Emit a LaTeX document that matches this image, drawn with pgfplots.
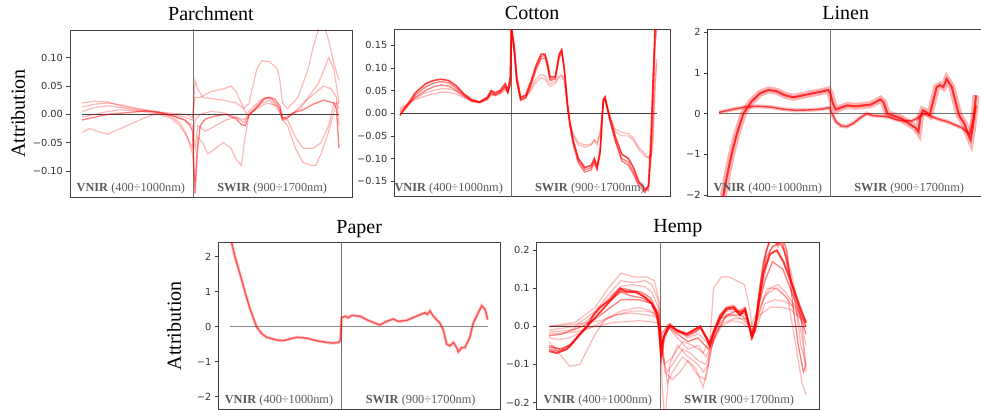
\documentclass[border=0pt]{standalone}
\usepackage{fontspec}
\setmainfont{Liberation Serif}
\newfontfamily\djv{DejaVu Sans}
\usepackage{pgfplots}
\usepackage{pgfplotstable}
\pgfplotsset{compat=1.18}

\pgfplotsset{
  panel/.style={
    scale only axis, anchor=south west,
    xtick=\empty, ytick pos=left, tick align=outside,
    major tick length=3.5pt,
    tick style={black!75, line width=0.6pt},
    yticklabel style={font=\djv\fontsize{9.8}{11}\selectfont, text=black!80},
    title style={font=\fontsize{20}{22}\selectfont, anchor=base, yshift=3.3pt},
    ylabel style={font=\fontsize{20}{22}\selectfont, anchor=center},
    axis line style={black!75, line width=0.7pt},
  },
  cur/.style={red, line width=1.2pt, opacity=0.28},
  mid/.style={red, line width=1.3pt, opacity=0.5},
  main/.style={red, line width=1.6pt, opacity=0.75},
  zero/.style={black!75, line width=0.6pt},
  sep/.style={black!55, line width=0.7pt},
}
\tikzset{lab/.style={font=\fontsize{12.3}{13}\selectfont, text=black!65, anchor=base}}
\newcommand{\bandlabels}{%
  \node[lab] at ({axis cs:19,0}|-{rel axis cs:0,0.032}) {\textbf{VNIR} (400÷1000nm)};
  \node[lab] at ({axis cs:74,0}|-{rel axis cs:0,0.032}) {\textbf{SWIR} (900÷1700nm)};
}

% Linen band data
\pgfplotstableread{
x y
0 -2.6
1.7 -2.0
3.2 -1.5
4.9 -1.0
6.9 -0.5
9.5 0
12.7 0.3
16 0.5
19.2 0.58
22.4 0.55
25.7 0.45
29 0.4
32.8 0.45
36.7 0.5
40.6 0.55
42.5 0.58
43.3 0.5
44.3 0.25
45.5 0.1
47.5 0.15
50 0.2
53 0.18
56 0.2
59 0.22
61.5 0.3
62.8 0.35
64 0.28
65.5 0.0
68 -0.05
71 -0.12
74 -0.25
76.5 -0.35
77.6 -0.45
78.3 -0.1
79.3 0.08
80.3 0.05
82 -0.03
83.3 0.3
84.7 0.65
86 0.7
87.3 0.65
88.6 0.85
89.6 0.75
90.6 0.65
92 0.3
93.5 -0.05
95.5 -0.25
97.2 -0.55
97.9 -0.65
98.8 -0.3
100 0.45
}\linenB
\pgfplotstableread{
x y
0 0.03
5 0.1
10 0.16
15 0.18
20 0.16
25 0.11
30 0.08
35 0.09
40 0.11
43 0.15
44 0.0
45.5 -0.2
47.5 -0.3
49.5 -0.32
52 -0.25
55 -0.1
57.5 0.0
60 -0.05
63 -0.06
66 -0.08
69 -0.15
72 -0.18
75 -0.18
77.5 -0.1
79.5 0.0
81 -0.02
83 -0.08
86 -0.15
89 -0.2
92 -0.28
94.5 -0.35
96.5 -0.45
97.5 -0.5
98.8 -0.2
100 0.2
}\linenA
\pgfplotstableread{
x y
0 2.6
1.9 2.0
3.9 1.5
5.8 1.0
7.8 0.5
10.3 0.0
12.3 -0.2
14.2 -0.3
18.1 -0.38
20.7 -0.4
23.3 -0.35
25.9 -0.3
29.8 -0.33
33.6 -0.4
37.5 -0.45
40.1 -0.47
42 -0.45
42.8 -0.4
43.3 0.25
44.6 0.3
45.9 0.25
47.2 0.32
50.5 0.3
53 0.2
56.3 0.1
58.2 0.05
60.8 0.15
63.4 0.22
65.3 0.15
68.6 0.18
72.4 0.3
75.7 0.4
76.6 0.35
77.6 0.45
78.9 0.3
81.5 0.1
82.8 -0.1
84.1 -0.5
85.4 -0.55
86.7 -0.45
88 -0.6
88.6 -0.72
89.9 -0.6
91.2 -0.6
93.1 -0.3
94.4 0.1
96.4 0.4
97.7 0.6
99 0.5
100 0.2
}\paper

\begin{document}
\begin{tikzpicture}
\path[use as bounding box] (0,0) rectangle (981pt,409pt);

% ---------------- Parchment
\begin{axis}[panel, at={(70pt,212pt)}, width=282pt, height=167pt,
  xmin=-4.67, xmax=105.06, ymin=-0.146, ymax=0.149,
  title={Parchment}, ylabel={Attribution},
  ylabel style={at={(axis description cs:-0.184,0.5)}},
  ytick={-0.1,-0.05,0,0.05,0.1},
  yticklabels={−0.10,−0.05,0.00,0.05,0.10}]
\addplot[sep] coordinates {(43.2,-1) (43.2,1)};
\addplot[zero] coordinates {(0,0) (100,0)};
\addplot[cur] coordinates {(0,0.02) (5,0.023) (10,0.022) (15,0.015) (20,0.01) (25,0.006) (30,0.003) (35,0) (40,-0.005) (43,-0.01) (44,0.06) (45,0.045) (47,0.03) (50,0.028) (55,0.025) (60,0.02) (63,0.01) (65,0.02) (68,0.08) (70,0.095) (73,0.093) (76,0.08) (77,0.06) (78,0.02) (80,0.01) (84,0.03) (88,0.08) (90,0.12) (92,0.15) (94,0.16) (96,0.13) (98,0.09) (100,0.06)};
\addplot[cur] coordinates {(0,0.013) (5,0.018) (10,0.02) (15,0.017) (20,0.012) (25,0.008) (30,0.004) (35,0.002) (40,0) (43,-0.005) (44,0.03) (46,0.03) (50,0.04) (55,0.045) (58,0.05) (60,0.04) (62,0.02) (64,0) (67,0.015) (71,0.03) (74,0.028) (77,0.01) (78,-0.008) (81,0) (85,0.01) (88,0.03) (92,0.055) (96,0.1) (98,0.08) (100,0.02)};
\addplot[cur] coordinates {(0,-0.005) (5,0) (10,0.005) (15,0.008) (20,0.006) (25,0.004) (30,0) (35,-0.008) (38,-0.02) (41,-0.04) (43,-0.07) (44,-0.12) (45,-0.04) (47,-0.05) (49,-0.07) (52,-0.06) (55,-0.05) (58,-0.06) (60,-0.08) (62,-0.09) (63.5,-0.04) (65,0) (68,0.01) (72,0.02) (76,0.015) (78,-0.01) (80,-0.01) (83,-0.04) (86,-0.06) (90,-0.06) (93,-0.05) (96,-0.02) (98,0.02) (100,0.02)};
\addplot[cur] coordinates {(0,-0.032) (3,-0.025) (6,-0.03) (10,-0.035) (15,-0.025) (20,-0.015) (25,-0.005) (30,0.003) (35,-0.005) (38,-0.015) (40,-0.03) (42,-0.05) (43,-0.06) (44,-0.01) (46,0) (50,0.005) (55,0.003) (60,-0.005) (63,-0.015) (65,0) (70,0.025) (73,0.03) (77,0.01) (78,-0.01) (80,-0.02) (83,-0.06) (86,-0.085) (89,-0.09) (91,-0.09) (93,-0.07) (96,-0.03) (99,0.02) (100,0.01)};
\addplot[cur] coordinates {(0,0.005) (5,0.012) (10,0.015) (15,0.012) (20,0.008) (25,0.006) (30,0.002) (35,-0.003) (40,-0.01) (43,-0.02) (44,-0.06) (45,-0.02) (48,-0.03) (52,-0.02) (56,-0.01) (60,-0.005) (63,-0.01) (65,0) (70,0.02) (73,0.025) (77,0.005) (78,-0.01) (82,0) (86,0.02) (90,0.035) (94,0.05) (97,0.045) (99,0.03) (100,-0.02)};
\addplot[mid] coordinates {(0,-0.01) (5,-0.005) (10,0) (15,0.002) (20,0.004) (25,0.006) (30,0.004) (35,-0.002) (40,-0.01) (42,-0.02) (43,-0.03) (44,-0.14) (45,-0.06) (46,-0.02) (48,-0.008) (52,-0.003) (56,0) (60,-0.008) (62,-0.018) (63.5,-0.02) (65,-0.002) (68,0.012) (71,0.028) (73,0.03) (75,0.027) (77,0.015) (78,-0.005) (79.5,-0.008) (82,0.002) (86,0.008) (90,0.018) (94,0.025) (98,0.02) (99,0.01) (100,-0.06)};
\bandlabels
\end{axis}

% ---------------- Cotton
\begin{axis}[panel, at={(394.3pt,212.3pt)}, width=275.7pt, height=167.4pt,
  xmin=-2.2, xmax=105.2, ymin=-0.184, ymax=0.185,
  title={Cotton},
  ytick={-0.15,-0.1,-0.05,0,0.05,0.1,0.15},
  yticklabels={−0.15,−0.10,−0.05,0.00,0.05,0.10,0.15}]
\addplot[sep] coordinates {(43.4,-1) (43.4,1)};
\addplot[zero] coordinates {(0,0) (100,0)};
\addplot[cur] coordinates {(0,0.012) (3,0.02) (6,0.03) (10,0.038) (13,0.043) (16,0.046) (19,0.046) (22,0.042) (25,0.034) (28,0.026) (31,0.024) (34,0.03) (35.5,0.04) (37,0.038) (39,0.042) (41,0.052) (42,0.045) (43,0.06) (43.4,0.185) (44.5,0.13) (45.5,0.065) (47,0.03) (49,0.035) (51,0.05) (53,0.068) (55,0.078) (56.5,0.075) (57.5,0.065) (58.5,0.06) (60.5,0.065) (62,0.078) (63,0.082) (64,0.07) (65.3,0.01) (66.2,-0.02) (67.5,-0.045) (69.5,-0.065) (72,-0.07) (74.5,-0.068) (75.7,-0.058) (76.8,-0.065) (78,-0.04) (79.2,0.02) (79.9,0.035) (80.8,0.015) (81.8,-0.005) (83.8,-0.035) (86.4,-0.042) (89,-0.045) (91,-0.055) (93,-0.075) (95.5,-0.09) (96.8,-0.1) (97.8,-0.095) (98.5,-0.08) (99.4,0.05) (100,0.11)};
\addplot[cur] coordinates {(0,0.008) (3,0.02) (6,0.033) (10,0.045) (13,0.05) (16,0.054) (19,0.054) (22,0.048) (25,0.036) (28,0.027) (31,0.024) (34,0.032) (35.5,0.044) (37,0.04) (39,0.044) (41,0.055) (42,0.046) (43,0.062) (43.4,0.18) (44.5,0.13) (45.5,0.07) (47,0.032) (49,0.036) (51,0.055) (53,0.075) (55,0.085) (56.5,0.083) (57.5,0.072) (58.5,0.065) (60.5,0.07) (62,0.082) (63,0.085) (64,0.075) (65.3,0.015) (66.2,-0.02) (67.5,-0.05) (69.5,-0.07) (72,-0.075) (74.5,-0.07) (75.7,-0.06) (76.8,-0.07) (78,-0.045) (79.2,0.022) (79.9,0.033) (80.8,0.012) (81.8,-0.01) (83.8,-0.04) (86.4,-0.05) (89,-0.05) (91,-0.06) (93,-0.08) (95.5,-0.095) (96.8,-0.098) (97.8,-0.09) (98.5,-0.05) (99.4,0.08) (100,0.12)};
\addplot[mid] coordinates {(0,0.003) (3,0.018) (6,0.035) (10,0.05) (13,0.058) (16,0.062) (19,0.06) (22,0.05) (25,0.038) (28,0.026) (31,0.023) (34,0.03) (35.5,0.043) (37,0.04) (39,0.045) (41,0.058) (42,0.045) (43,0.065) (43.4,0.19) (44.5,0.14) (45.5,0.07) (47,0.028) (49,0.033) (51,0.06) (53,0.095) (55,0.12) (56.5,0.122) (57.5,0.1) (58.5,0.072) (60.5,0.075) (62,0.12) (63,0.135) (64,0.095) (65.3,0.01) (66.2,-0.03) (67.5,-0.07) (69.5,-0.11) (72,-0.13) (74.5,-0.125) (75.7,-0.11) (76.8,-0.125) (78,-0.09) (79.2,0.025) (79.9,0.03) (80.8,0.008) (81.8,-0.018) (83.8,-0.06) (86.4,-0.105) (89,-0.115) (91,-0.135) (93,-0.16) (95.5,-0.175) (96.8,-0.16) (97.8,-0.1) (98.5,0.0) (99.4,0.15) (100,0.19)};
\addplot[mid] coordinates {(0,-0.003) (3,0.015) (6,0.04) (10,0.058) (13,0.066) (16,0.07) (19,0.067) (22,0.055) (25,0.04) (28,0.028) (31,0.024) (34,0.033) (35.5,0.047) (37,0.042) (39,0.047) (41,0.06) (42,0.045) (43,0.07) (43.4,0.19) (44.5,0.14) (45.5,0.075) (47,0.03) (49,0.036) (51,0.065) (53,0.1) (55,0.125) (56.5,0.127) (57.5,0.105) (58.5,0.075) (60.5,0.078) (62,0.125) (63,0.138) (64,0.098) (65.3,0.015) (66.2,-0.025) (67.5,-0.065) (69.5,-0.105) (72,-0.125) (74.5,-0.12) (75.7,-0.105) (76.8,-0.122) (78,-0.085) (79.2,0.028) (79.9,0.033) (80.8,0.01) (81.8,-0.015) (83.8,-0.058) (86.4,-0.1) (89,-0.108) (91,-0.13) (93,-0.155) (95.5,-0.165) (96.8,-0.17) (97.8,-0.08) (98.5,0.03) (99.4,0.19)};
\addplot[main] coordinates {(0,-0.005) (3,0.02) (6,0.045) (10,0.065) (13,0.072) (16,0.075) (19,0.072) (22,0.06) (25,0.042) (28,0.03) (31,0.025) (34,0.035) (35.5,0.05) (37,0.045) (39,0.05) (41,0.065) (42,0.05) (43,0.08) (43.4,0.19) (44.5,0.15) (45.5,0.08) (47,0.035) (49,0.04) (51,0.07) (53,0.105) (55,0.13) (56.5,0.13) (57.5,0.11) (58.5,0.08) (60.5,0.08) (62,0.13) (63,0.14) (64,0.1) (65.3,0.02) (66.2,-0.02) (67.5,-0.06) (69.5,-0.1) (72,-0.12) (74.5,-0.115) (75.7,-0.1) (76.8,-0.118) (78,-0.08) (79.2,0.03) (79.9,0.036) (80.8,0.012) (81.8,-0.01) (83.8,-0.05) (86.4,-0.09) (89,-0.1) (91,-0.12) (93,-0.15) (95.5,-0.17) (96.8,-0.16) (97.8,-0.05) (98.5,0.06) (99.4,0.19) (100,0.2)};
\bandlabels
\end{axis}

% ---------------- Linen
\begin{axis}[panel, at={(707.7pt,212.3pt)}, width=276pt, height=167.4pt,
  xmin=-4.4, xmax=103, ymin=-2.04, ymax=2.07,
  title={Linen},
  ytick={-2,-1,0,1,2},
  yticklabels={−2,−1,0,1,2}]
\addplot[sep] coordinates {(43.3,-3) (43.3,3)};
\addplot[black!55, line width=0.7pt] coordinates {(0,0) (100,0)};
\addplot[red, line width=4pt, opacity=0.25] table {\linenA};
\addplot[red, line width=1.4pt, opacity=0.7] table {\linenA};
\addplot[red, line width=7pt, opacity=0.3] table {\linenB};
\addplot[red, line width=2pt, opacity=0.75] table {\linenB};
\bandlabels
\end{axis}

% ---------------- Paper
\begin{axis}[panel, at={(218.3pt,-0.3pt)}, width=281.7pt, height=167pt,
  xmin=-4.54, xmax=104.8, ymin=-2.36, ymax=2.41,
  title={Paper}, ylabel={Attribution},
  ylabel style={at={(axis description cs:-0.157,0.5)}},
  ytick={-2,-1,0,1,2},
  yticklabels={−2,−1,0,1,2}]
\addplot[sep] coordinates {(43.1,-3) (43.1,3)};
\addplot[black!45, line width=1pt] coordinates {(0,0) (100,0)};
\addplot[red, line width=3.2pt, opacity=0.2] table {\paper};
\addplot[red, line width=1.4pt, opacity=0.6] table {\paper};
\bandlabels
\end{axis}

% ---------------- Hemp
\begin{axis}[panel, at={(536.7pt,-0.3pt)}, width=282.3pt, height=167pt,
  xmin=-4.8, xmax=105.06, ymin=-0.218, ymax=0.221,
  title={Hemp},
  ytick={-0.2,-0.1,0,0.1,0.2},
  yticklabels={−0.2,−0.1,0.0,0.1,0.2}]
\addplot[sep] coordinates {(43.3,-1) (43.3,1)};
\addplot[zero] coordinates {(0,0) (100,0)};
\addplot[cur] coordinates {(0,0) (10,0.01) (18,0.05) (23,0.1) (28,0.14) (33,0.13) (38,0.13) (41,0.12) (43,0.06) (44,-0.15) (45,-0.25) (47,-0.1) (50,-0.05) (54,-0.08) (58,-0.1) (60,-0.12) (62,-0.1) (64,0.1) (67,0.13) (70,0.13) (73,0.12) (76,0.11) (78,0.05) (79.5,-0.02) (81.5,0.05) (84,0.18) (87,0.25) (91,0.22) (95,0.1) (98,-0.05) (100,-0.1)};
\addplot[cur] coordinates {(0,-0.04) (5,-0.08) (8,-0.105) (12,-0.1) (15,-0.06) (18,-0.02) (22,0.02) (28,0.04) (35,0.05) (40,0.04) (42,0.02) (44,-0.05) (46,-0.15) (48,-0.12) (52,-0.08) (55,-0.1) (58,-0.13) (61,-0.14) (63.5,-0.05) (66,0.02) (70,0.03) (74,0.03) (77,0.02) (79,-0.02) (82,0.05) (85,0.1) (89,0.1) (93,0.07) (96,-0.05) (98.5,-0.15) (100,-0.18)};
\addplot[cur] coordinates {(0,0) (10,0.005) (20,0.015) (26,0.03) (32,0.035) (38,0.03) (42,0.025) (43.6,-0.02) (46,0) (50,-0.03) (54,-0.06) (58,-0.05) (61,-0.08) (64,-0.04) (67,0.02) (71,0.03) (75,0.02) (78,0) (79,-0.02) (81.5,0.03) (84,0.08) (88,0.1) (92,0.08) (96,0.04) (100,0)};
\addplot[cur] coordinates {(0,-0.02) (10,-0.015) (18,0) (25,0.01) (35,0.015) (42,0.01) (43.5,0) (45,-0.1) (48,-0.08) (52,-0.04) (56,-0.05) (60,-0.07) (64,-0.02) (68,0.01) (72,0.02) (76,0.02) (79,-0.01) (82,0.03) (86,0.05) (90,0.05) (94,0.045) (98,0.02) (100,-0.1)};
\addplot[cur] coordinates {(0,-0.015) (8,-0.01) (14,0.01) (19,0.04) (24,0.08) (28,0.105) (32,0.11) (37,0.105) (40,0.09) (42.5,0.05) (43.6,-0.03) (46,0.005) (50,-0.01) (54,-0.03) (58,-0.02) (62,-0.045) (64.5,-0.01) (68,0.04) (72,0.04) (75,0.035) (76.5,0.03) (78,0) (79,-0.025) (81,0.02) (83.5,0.07) (86,0.1) (89,0.11) (92,0.09) (95,0.06) (98,0.03) (100,0)};
\addplot[cur] coordinates {(0,-0.03) (4,-0.035) (8,-0.03) (14,-0.01) (20,0.01) (26,0.03) (32,0.04) (38,0.04) (41,0.035) (42.5,0.02) (44,-0.08) (46,-0.12) (49,-0.09) (52,-0.06) (55,-0.07) (58,-0.09) (61,-0.1) (64,-0.04) (67,0) (71,0.015) (75,0.01) (78,-0.005) (79,-0.03) (81.5,0.01) (84,0.06) (88,0.07) (92,0.065) (96,0.05) (98.5,-0.03) (100,-0.12)};
\addplot[cur] coordinates {(0,-0.01) (10,0) (18,0.04) (24,0.09) (28,0.12) (33,0.115) (37,0.12) (40,0.11) (42.5,0.07) (43.8,-0.04) (45,-0.12) (48,-0.14) (51,-0.12) (54,-0.09) (57,-0.11) (60,-0.16) (62.5,-0.08) (65,0) (70,0.03) (75,0.03) (78.5,0) (81,0.04) (83.5,0.12) (86,0.2) (89,0.22) (92,0.2) (95,0.12) (98,0.02) (100,-0.05)};
\addplot[mid] coordinates {(0,-0.025) (5,-0.02) (13,0) (18,0.02) (24,0.05) (28,0.07) (35,0.07) (40,0.06) (42.5,0.03) (43.6,-0.05) (46,0) (50,-0.02) (54,-0.04) (58,-0.03) (62,-0.06) (65,-0.02) (69,0.03) (73,0.04) (76,0.04) (78,0) (79,-0.02) (81.5,0.05) (84,0.12) (87,0.17) (91,0.15) (95,0.08) (98,0.02) (100,-0.02)};
\addplot[mid] coordinates {(0,-0.05) (4,-0.06) (8,-0.05) (12,-0.02) (16,0.01) (20,0.04) (24,0.07) (28,0.09) (32,0.08) (36,0.075) (40,0.06) (42.5,0.03) (43.6,-0.06) (45,-0.02) (47,0) (50,-0.015) (54,-0.025) (57,-0.015) (59,-0.005) (61,-0.03) (62.6,-0.04) (64,-0.01) (66.5,0.03) (69,0.05) (71.7,0.055) (74,0.04) (76.3,0.05) (77.6,0.015) (78.9,-0.025) (80.2,0) (81.5,0.08) (83.4,0.17) (85.5,0.22) (87.5,0.23) (89,0.21) (90.5,0.23) (93,0.15) (96,0.08) (98.5,0.03) (100,0.01)};
\addplot[mid] coordinates {(0,-0.055) (5,-0.06) (9,-0.045) (13,-0.015) (17,0.015) (21,0.045) (25,0.075) (28.5,0.1) (32,0.095) (36,0.09) (39.5,0.075) (42,0.04) (43.6,-0.07) (45,-0.02) (47,0.002) (50,-0.012) (54,-0.022) (57,-0.012) (59,-0.002) (61.3,-0.03) (62.6,-0.048) (64,-0.015) (66.5,0.028) (69,0.048) (72,0.05) (74.3,0.035) (76.3,0.045) (77.6,0.01) (79,-0.028) (80.5,0.01) (82.5,0.1) (84.5,0.18) (87,0.21) (90,0.22) (92.5,0.18) (95,0.09) (98,0.03) (100,0)};
\addplot[mid] coordinates {(0,-0.06) (4,-0.065) (8,-0.055) (11,-0.03) (15,0) (19,0.03) (23,0.06) (27,0.09) (31,0.095) (35,0.085) (39,0.07) (42,0.04) (43.6,-0.09) (45,-0.03) (47,0) (50,-0.01) (53.6,-0.02) (56,-0.01) (58.8,0) (61.3,-0.035) (62.6,-0.055) (64,-0.02) (66.5,0.025) (69,0.045) (72,0.045) (74.3,0.03) (76.3,0.04) (77.6,0.005) (79,-0.03) (80.5,0.02) (82.5,0.12) (84.5,0.2) (87,0.24) (90,0.25) (92.5,0.2) (95,0.05) (97,-0.05) (99,-0.12) (100,-0.1)};
\addplot[main, line width=2pt] coordinates {(0,-0.065) (3,-0.07) (6.9,-0.06) (9.5,-0.04) (12,-0.02) (14.7,0) (17.3,0.03) (19.8,0.05) (23.7,0.07) (27.6,0.1) (30.2,0.09) (34.1,0.09) (36.7,0.08) (39.9,0.06) (41.9,0.03) (42.9,0) (43.6,-0.08) (44.5,-0.03) (47,0.005) (49.7,-0.01) (53.6,-0.02) (56.2,-0.01) (58.8,0) (61.3,-0.03) (62.6,-0.05) (63.9,-0.02) (66.5,0.02) (69.1,0.045) (71.7,0.05) (74.3,0.03) (76.3,0.045) (77.6,0.01) (78.9,-0.03) (80.2,-0.01) (81.5,0.06) (83.4,0.14) (86,0.19) (88.6,0.2) (91.2,0.17) (95.1,0.1) (97.7,0.05) (100,0.01)};
\bandlabels
\end{axis}
\end{tikzpicture}
\end{document}
